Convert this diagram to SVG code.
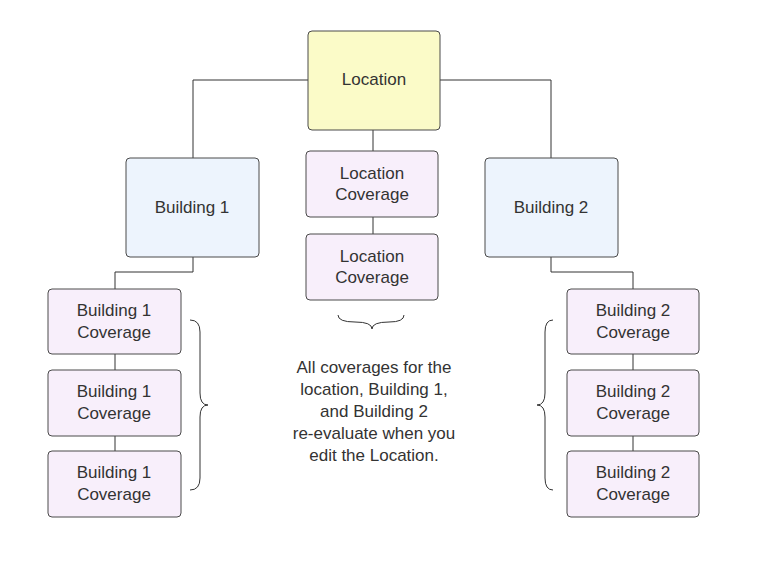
<svg xmlns="http://www.w3.org/2000/svg" width="762" height="573" viewBox="0 0 762 573">
<style>
.n{stroke:#4a4a4a;stroke-width:1}
.loc{fill:#fbfbc8}
.bld{fill:#edf4fd}
.cov{fill:#f8effb}
text{font-family:"Liberation Sans",Arial,sans-serif;font-size:17px;fill:#333;text-anchor:middle}
.c{fill:none;stroke:#333;stroke-width:1}
</style>
<rect width="762" height="573" fill="#fff"/>
<g id="connectors" class="c">
<path d="M308 80H193V158M440 80H551V158M373 130V151M373 217V234"/>
<path d="M193 257V272H115V289M115 354V370M115 436V451"/>
<path d="M551 257V272H633V289M633 354V370M633 436V451"/>
<path d="M338 315Q338 322 355 322Q372 322 372 329Q372 322 389 322Q404 322 404 315"/>
<path d="M190 320Q200 320 200 332V393Q200 405 208 405Q200 405 200 417V478Q200 490 190 490"/>
<path d="M553 320Q545 320 545 332V393Q545 405 537 405Q545 405 545 417V478Q545 490 553 490"/>
</g>
<g id="location"><rect class="n loc" x="308" y="31" width="132" height="99" rx="4"/><text x="374" y="85">Location</text></g>
<g id="building1"><rect class="n bld" x="126" y="158" width="133" height="99" rx="4"/><text x="192" y="213">Building 1</text></g>
<g id="building2"><rect class="n bld" x="485" y="158" width="133" height="99" rx="4"/><text x="551" y="213">Building 2</text></g>
<g id="loccov1"><rect class="n cov" x="306" y="151" width="132" height="66" rx="4"/><text x="372" y="179">Location</text><text x="372" y="200">Coverage</text></g>
<g id="loccov2"><rect class="n cov" x="306" y="234" width="132" height="66" rx="4"/><text x="372" y="262">Location</text><text x="372" y="283">Coverage</text></g>
<g id="b1c1"><rect class="n cov" x="48" y="289" width="133" height="65" rx="4"/><text x="114" y="316">Building 1</text><text x="114" y="338">Coverage</text></g>
<g id="b1c2"><rect class="n cov" x="48" y="370" width="133" height="66" rx="4"/><text x="114" y="397">Building 1</text><text x="114" y="419">Coverage</text></g>
<g id="b1c3"><rect class="n cov" x="48" y="451" width="133" height="66" rx="4"/><text x="114" y="478">Building 1</text><text x="114" y="500">Coverage</text></g>
<g id="b2c1"><rect class="n cov" x="567" y="289" width="132" height="65" rx="4"/><text x="633" y="316">Building 2</text><text x="633" y="338">Coverage</text></g>
<g id="b2c2"><rect class="n cov" x="567" y="370" width="132" height="66" rx="4"/><text x="633" y="397">Building 2</text><text x="633" y="419">Coverage</text></g>
<g id="b2c3"><rect class="n cov" x="567" y="451" width="132" height="66" rx="4"/><text x="633" y="478">Building 2</text><text x="633" y="500">Coverage</text></g>
<g id="note">
<text x="374" y="373">All coverages for the</text>
<text x="374" y="395">location, Building 1,</text>
<text x="374" y="417">and Building 2</text>
<text x="374" y="439">re-evaluate when you</text>
<text x="374" y="461">edit the Location.</text>
</g>
</svg>
